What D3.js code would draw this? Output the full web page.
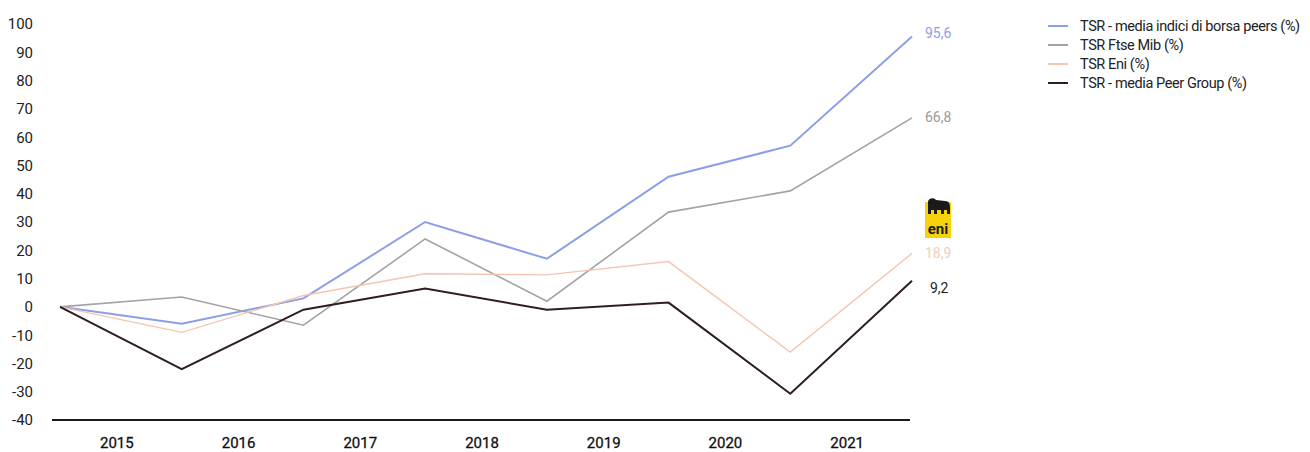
<!DOCTYPE html>
<html>
<head>
<meta charset="utf-8">
<script src="https://cdn.jsdelivr.net/npm/d3@7"></script>
<style>
  body { margin: 0; background: #fff; }
  text { font-family: Roboto, "Noto Sans", sans-serif; }
</style>
</head>
<body>
<div id="chart"></div>
<script>
// years shown under the axis; the lines have one extra starting point (0)
var years = ["2015", "2016", "2017", "2018", "2019", "2020", "2021"];
var yTicks = [100, 90, 80, 70, 60, 50, 40, 30, 20, 10, 0, -10, -20, -30, -40];

var indiciPeers = [0, -6, 3, 30, 17, 46, 57, 95.6];
var ftseMib = [0, 3.5, -6.5, 24, 2, 33.5, 41, 66.8];
var tsrEni = [0, -9, 4, 11.7, 11.3, 16, -16, 18.9];
var peerGroup = [0, -22, -1, 6.5, -1, 1.5, -30.7, 9.2];

var seriesNames = ["TSR - media indici di borsa peers (%)", "TSR Ftse Mib (%)", "TSR Eni (%)", "TSR - media Peer Group (%)"];
var endLabels = ["95,6", "66,8", "18,9", "9,2"];

var width = 1310, height = 452;
var colors = ["#8d9ee6", "#a3a3a6", "#f3c6b2", "#2e1d24"];
var seriesData = [indiciPeers, ftseMib, tsrEni, peerGroup];

var svg = d3.select("#chart").append("svg")
  .attr("width", width)
  .attr("height", height);

var xScale = d3.scaleLinear()
  .domain([0, years.length])
  .range([60, 912]);
var yScale = d3.scaleLinear()
  .domain([-40, 100])
  .range([420, 24]);

// y tick labels (no axis line)
svg.append("g").selectAll("text").data(yTicks).enter()
  .append("text")
  .attr("x", 33)
  .attr("y", function (d) { return yScale(d); })
  .attr("dy", "0.36em")
  .attr("text-anchor", "end")
  .attr("font-size", 15)
  .attr("fill", "#222")
  .text(function (d) { return d; });

// bottom line at -40
svg.append("line")
  .attr("x1", 52).attr("x2", xScale(years.length) - 2)
  .attr("y1", yScale(-40)).attr("y2", yScale(-40))
  .attr("stroke", "#1a1a1a").attr("stroke-width", 2);

// year labels, centred between points
svg.append("g").selectAll("text").data(years).enter()
  .append("text")
  .attr("x", function (d, i) { return xScale(i + 0.5) - 4; })
  .attr("y", 443)
  .attr("dy", "0.36em")
  .attr("text-anchor", "middle")
  .attr("font-size", 15)
  .attr("fill", "#111")
  .attr("stroke", "#111")
  .attr("stroke-width", 0.3)
  .text(function (d) { return d; });

var line = d3.line()
  .x(function (d, i) { return xScale(i); })
  .y(function (d) { return yScale(d); });

var widths = [2, 1.6, 1.4, 2];
seriesData.forEach(function (s, k) {
  svg.append("path").datum(s)
    .attr("d", line)
    .attr("fill", "none")
    .attr("stroke", colors[k])
    .attr("stroke-width", widths[k])
    .attr("stroke-linejoin", "miter");
});

// end value labels
var labelY = [33, 117, 253, 288];
var labelColors = ["#8d9ee6", "#999", "#f3cdb8", "#1e1e1e"];
endLabels.forEach(function (t, k) {
  svg.append("text")
    .attr("x", k == 3 ? 930 : 925)
    .attr("y", labelY[k])
    .attr("dy", "0.36em")
    .attr("font-size", 14)
    .attr("fill", labelColors[k])
    .text(t);
});

// eni logo (simplified)
var logo = svg.append("g").attr("transform", "translate(925,198)");
logo.append("rect").attr("x", 0).attr("y", 4).attr("width", 26).attr("height", 36).attr("fill", "#f5d20a");
logo.append("path")
  .attr("d", "M3,4 C3,0 9,-1 11,2 L20,3 C24,3 25,6 25,9 L25,16 L22,16 L22,12 L19,12 L19,16 L16,16 L16,12 L12,12 L12,16 L9,16 L9,12 L6,12 L6,16 L3,16 Z")
  .attr("fill", "#1a1a1a");
logo.append("text")
  .attr("x", 13).attr("y", 36)
  .attr("text-anchor", "middle")
  .attr("font-size", 15)
  .attr("font-weight", "bold")
  .attr("fill", "#1a1a1a")
  .text("eni");

// legend
var legend = svg.append("g").attr("transform", "translate(1048,26)");
seriesNames.forEach(function (n, k) {
  var g = legend.append("g").attr("transform", "translate(0," + (k * 19) + ")");
  g.append("line").attr("x1", 0).attr("x2", 20).attr("y1", 0).attr("y2", 0)
    .attr("stroke", colors[k]).attr("stroke-width", 2);
  g.append("text")
    .attr("x", 32).attr("y", 0)
    .attr("dy", "0.36em")
    .attr("font-size", 14.5)
    .attr("letter-spacing", -0.4)
    .attr("fill", "#222")
    .text(n);
});
</script>
</body>
</html>
